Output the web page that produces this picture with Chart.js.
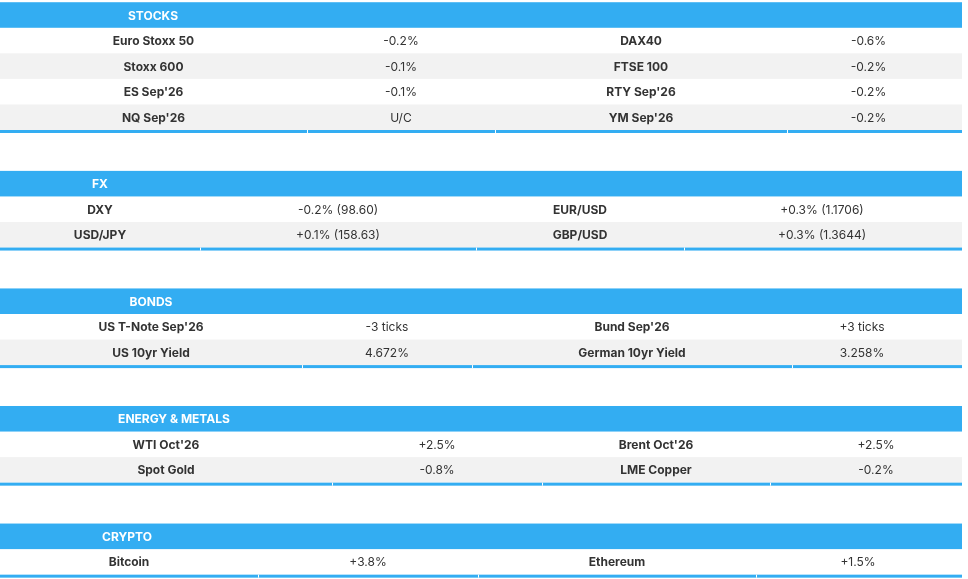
<!DOCTYPE html>
<html>
<head>
<meta charset="utf-8">
<script src="https://cdn.jsdelivr.net/npm/chart.js@4/dist/chart.umd.min.js"></script>
<style>
  html, body { margin: 0; padding: 0; background: #fff; }
  #wrap { width: 968px; height: 579px; }
</style>
</head>
<body>
<div id="wrap"><canvas id="board"></canvas></div>
<script>
// Section titles
const sectionTitles = ['STOCKS', 'FX', 'BONDS', 'ENERGY & METALS', 'CRYPTO'];

// Rows: [left name, left value, right name, right value]
const stocksRows = [
    ['Euro Stoxx 50', '-0.2%', 'DAX40', '-0.6%'],
    ['Stoxx 600', '-0.1%', 'FTSE 100', '-0.2%'],
    ["ES Sep'26", '-0.1%', "RTY Sep'26", '-0.2%'],
    ["NQ Sep'26", 'U/C', "YM Sep'26", '-0.2%']
];
const fxRows = [
    ['DXY', '-0.2% (98.60)', 'EUR/USD', '+0.3% (1.1706)'],
    ['USD/JPY', '+0.1% (158.63)', 'GBP/USD', '+0.3% (1.3644)']
];
const bondsRows = [
    ["US T-Note Sep'26", '-3 ticks', "Bund Sep'26", '+3 ticks'],
    ['US 10yr Yield', '4.672%', 'German 10yr Yield', '3.258%']
];
const energyRows = [
    ["WTI Oct'26", '+2.5%', "Brent Oct'26", '+2.5%'],
    ['Spot Gold', '-0.8%', 'LME Copper', '-0.2%']
];
const cryptoRows = [
    ['Bitcoin', '+3.8%', 'Ethereum', '+1.5%']
];

const sectionRows = [stocksRows, fxRows, bondsRows, energyRows, cryptoRows];

// column edges per section (layout)
const colEdges = [
    [0, 307, 495, 787, 950],
    [0, 200, 476, 684, 960],
    [0, 302, 472, 792, 932],
    [0, 332, 542, 770, 982],
    [0, 258, 478, 756, 960]
];
const titleX = [153, 100, 151, 174, 127];
const tableRight = 962;
const sectionGap = 2.6;

// row slots for each section
const layout = [];
let slot = 0;
sectionRows.forEach((rows, i) => {
    layout.push({ header: slot, rows: rows.map((r, j) => slot + 1 + j) });
    slot = slot + rows.length + sectionGap;
});

const tablePlugin = {
    id: 'tablePlugin',
    afterDraw(chart) {
        const ctx = chart.ctx;
        const x = chart.scales.x;
        const y = chart.scales.y;
        const half = (y.getPixelForValue(1) - y.getPixelForValue(0)) / 2;
        ctx.save();
        ctx.textBaseline = 'middle';
        ctx.textAlign = 'center';
        layout.forEach((sec, s) => {
            const left = x.getPixelForValue(0);
            const right = x.getPixelForValue(tableRight);
            // header band
            const hy = y.getPixelForValue(sec.header);
            ctx.fillStyle = '#33adf2';
            ctx.fillRect(left, hy - half, right - left, half * 2);
            ctx.fillStyle = '#ffffff';
            ctx.font = 'bold 12px Inter, "Noto Sans", sans-serif';
            ctx.fillText(sectionTitles[s], x.getPixelForValue(titleX[s]), hy + 1);
            const edges = colEdges[s];
            sectionRows[s].forEach((row, r) => {
                const ry = y.getPixelForValue(sec.rows[r]);
                if (r % 2 === 1) {
                    ctx.fillStyle = '#f2f2f2';
                    ctx.fillRect(left, ry - half, right - left, half * 2);
                }
                row.forEach((txt, c) => {
                    const cx = x.getPixelForValue((edges[c] + edges[c + 1]) / 2);
                    ctx.fillStyle = '#333333';
                    ctx.font = (c % 2 === 0 ? 'bold ' : '') + '12px Inter, "Noto Sans", sans-serif';
                    ctx.fillText(txt, cx, ry + 1);
                });
            });
            // bottom rule with column gaps
            const by = y.getPixelForValue(sec.rows[sec.rows.length - 1]) + half;
            ctx.fillStyle = '#33adf2';
            ctx.fillRect(left, by, right - left, 3);
            ctx.fillStyle = '#ffffff';
            edges.slice(1, 4).forEach(e => {
                ctx.fillRect(x.getPixelForValue(e), by, 1, 3);
            });
        });
        ctx.restore();
    }
};

new Chart(document.getElementById('board'), {
    type: 'scatter',
    data: { datasets: [{ data: [], pointRadius: 0 }] },
    options: {
        responsive: true,
        maintainAspectRatio: false,
        animation: false,
        layout: { padding: 0 },
        plugins: { legend: { display: false }, tooltip: { enabled: false } },
        scales: {
            x: { type: 'linear', min: 0, max: 968, display: false },
            y: { type: 'linear', min: -0.587, max: 22.07, reverse: true, display: false }
        }
    },
    plugins: [tablePlugin]
});
</script>
</body>
</html>
